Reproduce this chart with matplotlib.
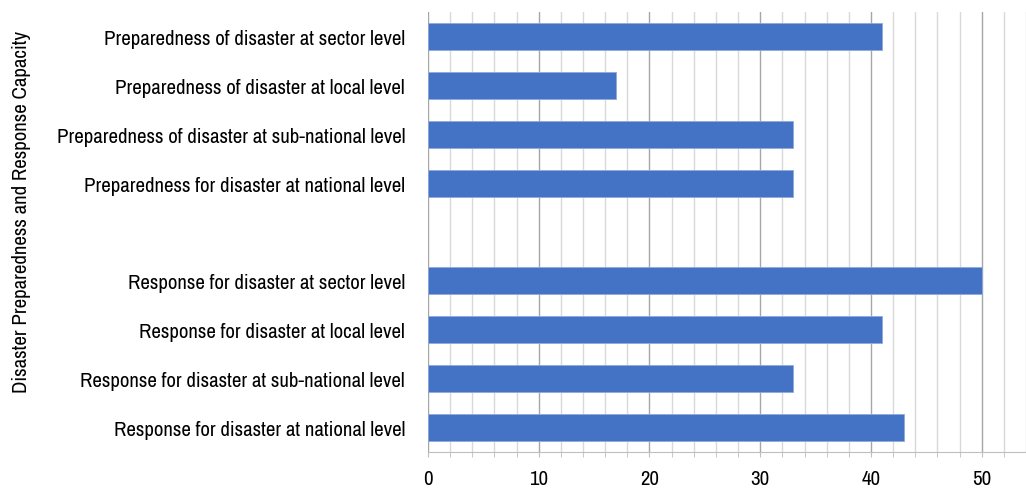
import matplotlib
matplotlib.use("Agg")
import matplotlib.pyplot as plt
from matplotlib.ticker import MultipleLocator

categories = [
    "Preparedness of disaster at sector level",
    "Preparedness of disaster at local level",
    "Preparedness of disaster at sub-national level",
    "Preparedness for disaster at national level",
    "Response for disaster at sector level",
    "Response for disaster at local level",
    "Response for disaster at sub-national level",
    "Response for disaster at national level",
]
values = [41, 17, 33, 33, 50, 41, 33, 43]
xticks = [0, 10, 20, 30, 40, 50]
ylabel = "Disaster Preparedness and Response Capacity"

plt.rcParams['font.family'] = ['Archivo Narrow', 'Liberation Sans', 'DejaVu Sans']

fig = plt.figure(figsize=(10.26, 4.89), dpi=100)
ax = fig.add_axes([428/1026, 1-453/489, 1-428/1026, 440/489])

# positions top-to-bottom, with a blank slot between groups
slots = [0, 1, 2, 3, 5, 6, 7, 8]
ax.barh(slots, values, height=0.55, color="#4472C4", edgecolor="#8FAADC", linewidth=0.6, zorder=3)
ax.set_ylim(8.5, -0.5)
ax.set_yticks(slots)
ax.set_yticklabels(categories, fontsize=15, color="#000000")
ax.tick_params(axis='y', length=0, pad=16.5)

ax.set_xlim(0, 54)
ax.set_xticks(xticks)
ax.xaxis.set_minor_locator(MultipleLocator(2))
ax.tick_params(axis='x', which='both', length=3.6, color="#BFBFBF", labelsize=15, pad=9)
ax.grid(axis='x', which='minor', color="#D9D9D9", linewidth=1, zorder=0)
ax.grid(axis='x', which='major', color="#A6A6A6", linewidth=1, zorder=0)

for s in ['top', 'right', 'left']:
    ax.spines[s].set_visible(False)
ax.spines['bottom'].set_color("#BFBFBF")

fig.text(22/1026, 1-212/489, ylabel, rotation=90, ha='center', va='center', fontsize=15)

fig.savefig("out.png", dpi=100)
